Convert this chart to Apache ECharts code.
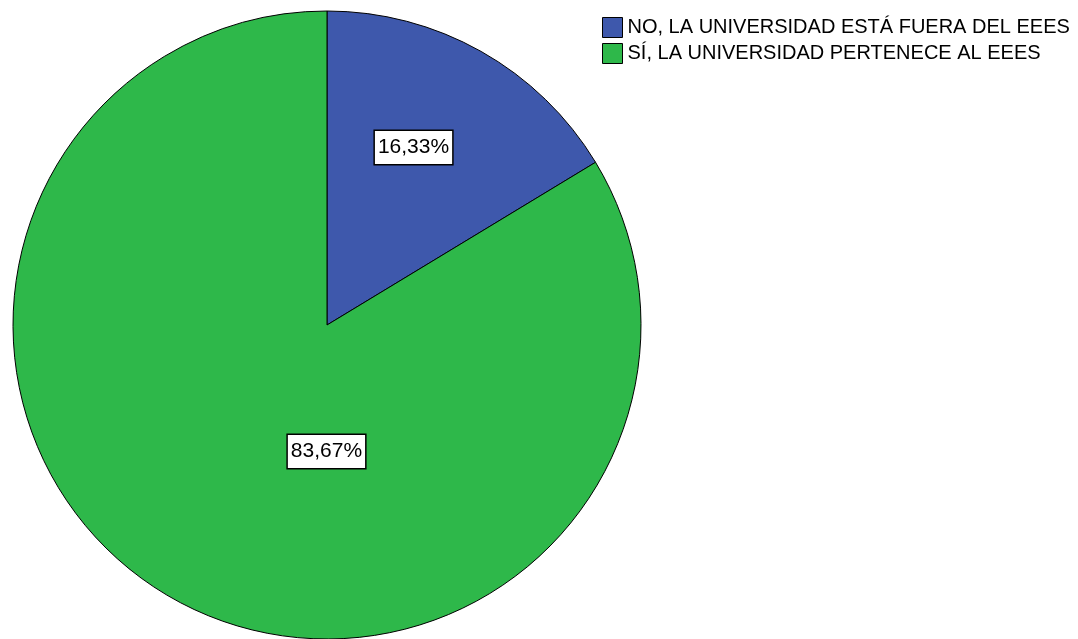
<!DOCTYPE html>
<html>
<head>
<meta charset="utf-8">
<script src="https://cdn.jsdelivr.net/npm/echarts@6/dist/echarts.min.js"></script>
<style>
html,body{margin:0;padding:0;background:#fff;}
#chart{width:1078px;height:639px;}
</style>
</head>
<body>
<div id="chart"></div>
<script>
var categories = ['NO, LA UNIVERSIDAD ESTÁ FUERA DEL EEES', 'SÍ, LA UNIVERSIDAD PERTENECE AL EEES'];
var values = [16.33, 83.67];
var colors = ['#3e58ac', '#2eb84a'];
var labelOffsets = [[8, -38], [78, -13]];

var chart = echarts.init(document.getElementById('chart'));
chart.setOption({
  animation: false,
  backgroundColor: '#ffffff',
  legend: {
    orient: 'vertical',
    left: 602,
    top: 17,
    padding: 0,
    itemWidth: 20,
    itemHeight: 20,
    itemGap: 5,
    icon: 'rect',
    textStyle: { fontFamily: 'Liberation Sans, Arial, sans-serif', fontSize: 20, color: '#000' },
    itemStyle: { borderColor: '#000', borderWidth: 1 },
    data: categories
  },
  series: [{
    type: 'pie',
    center: [327, 325],
    radius: 314,
    startAngle: 90,
    clockwise: true,
    itemStyle: { borderColor: '#000', borderWidth: 1 },
    emphasis: { disabled: true },
    label: {
      position: 'inside',
      fontFamily: 'Liberation Sans, Arial, sans-serif',
      fontSize: 21,
      lineHeight: 22,
      color: '#000',
      backgroundColor: '#fff',
      borderColor: '#000',
      borderWidth: 1.5,
      padding: [6, 3, 5, 3],
      formatter: function (p) { return p.value.toFixed(2).replace('.', ',') + '%'; }
    },
    labelLine: { show: false },
    data: categories.map(function (c, i) {
      return { name: c, value: values[i], itemStyle: { color: colors[i] }, label: { offset: labelOffsets[i] } };
    })
  }]
});
</script>
</body>
</html>
